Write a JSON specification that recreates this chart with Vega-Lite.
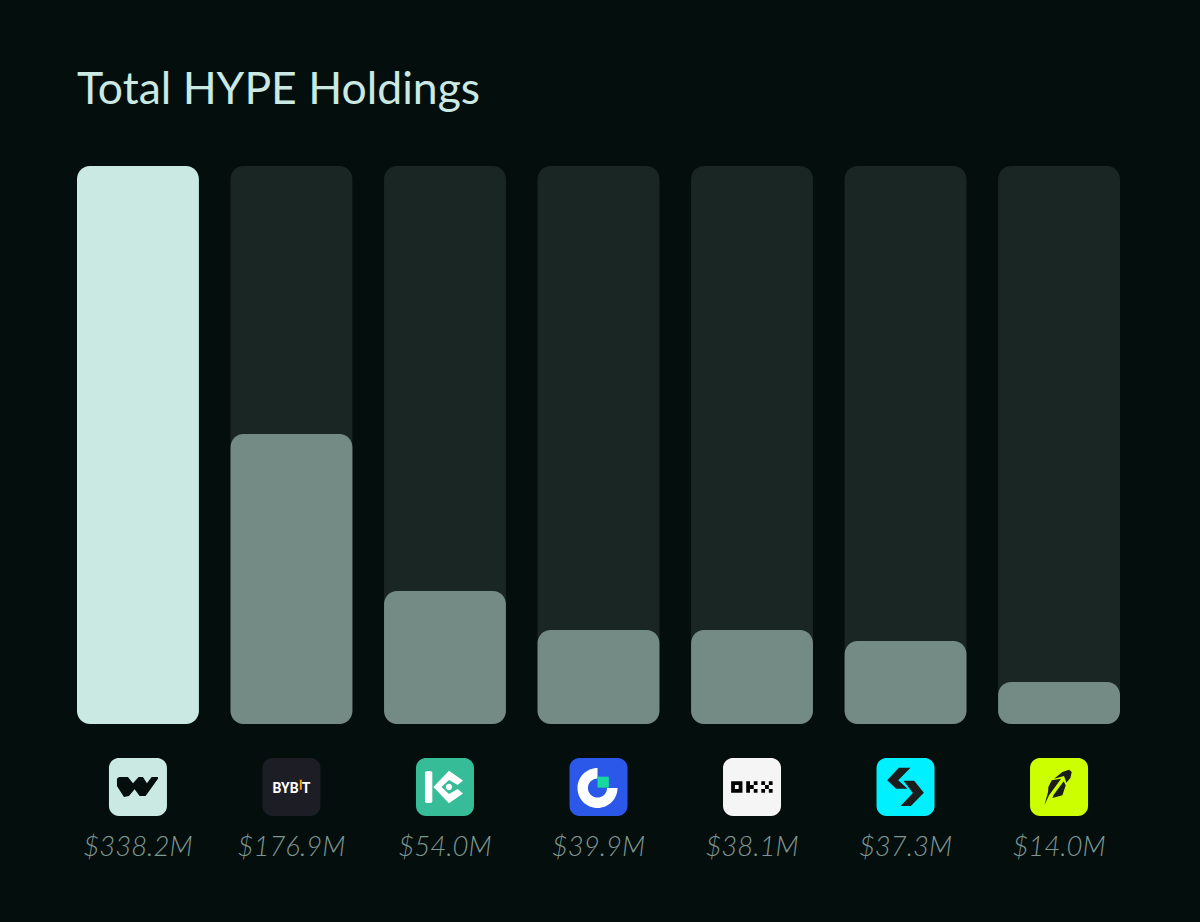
{
  "$schema": "https://vega.github.io/schema/vega-lite/v6.json",
  "background": "#040E0D",
  "padding": {"left": 77, "right": 80, "top": 67, "bottom": 64},
  "title": {"text": "Total HYPE Holdings", "font": "Lato", "fontSize": 44.5, "fontWeight": 400, "color": "#CBE9E3", "anchor": "start", "frame": "group", "offset": 53},
  "config": {"view": {"stroke": null}},
  "data": {
    "values": [
      {"exchange": "W", "label": "$338.2M", "drawn": 338.2},
      {"exchange": "Bybit", "label": "$176.9M", "drawn": 175.8},
      {"exchange": "KuCoin", "label": "$54.0M", "drawn": 80.6},
      {"exchange": "Gate", "label": "$39.9M", "drawn": 57},
      {"exchange": "OKX", "label": "$38.1M", "drawn": 57},
      {"exchange": "Bitget", "label": "$37.3M", "drawn": 50.3},
      {"exchange": "Robinhood", "label": "$14.0M", "drawn": 25.5}
    ]
  },
  "spacing": 34,
  "vconcat": [
    {
      "width": 1043,
      "height": 558,
      "encoding": {
        "x": {"field": "label", "type": "nominal", "sort": null, "axis": null, "scale": {"paddingInner": 0.206, "paddingOuter": 0}}
      },
      "layer": [
        {
          "mark": {"type": "bar", "cornerRadius": 13, "color": "#1A2624"},
          "encoding": {
            "y": {"datum": 338.2, "type": "quantitative", "axis": null, "scale": {"domain": [0, 338.2], "nice": false}},
            "y2": {"datum": 0}
          }
        },
        {
          "mark": {"type": "bar", "cornerRadius": 13},
          "encoding": {
            "y": {"field": "drawn", "type": "quantitative", "stack": null, "axis": null, "scale": {"domain": [0, 338.2], "nice": false}},
            "color": {"condition": {"test": "datum.exchange === 'W'", "value": "#CBE9E3"}, "value": "#748A85"}
          }
        }
      ]
    },
    {
      "width": 1043,
      "height": 58,
      "encoding": {
        "x": {
          "field": "label",
          "type": "nominal",
          "sort": null,
          "title": null,
          "scale": {"paddingInner": 0.206, "paddingOuter": 0},
          "axis": {"domain": false, "ticks": false, "labelAngle": 0, "labelFont": "Lato", "labelFontStyle": "italic", "labelFontWeight": 300, "labelFontSize": 27.5, "labelColor": "#7F9691", "labelPadding": 17}
        }
      },
      "resolve": {"scale": {"color": "independent"}},
      "layer": [
        {
          "mark": {"type": "bar", "width": 58, "cornerRadius": 10},
          "encoding": {
            "color": {
              "field": "exchange",
              "type": "nominal",
              "legend": null,
              "scale": {
                "domain": ["W", "Bybit", "KuCoin", "Gate", "OKX", "Bitget", "Robinhood"],
                "range": ["#CBE9E3", "#1D1D26", "#36BD97", "#2B58E8", "#F5F5F5", "#00F0FF", "#CCFF00"]
              }
            }
          }
        },
        {
          "transform": [{"filter": "datum.exchange !== 'Bybit'"}],
          "mark": {"type": "point", "filled": true, "opacity": 1, "size": 3364},
          "encoding": {
            "color": {
              "field": "exchange",
              "type": "nominal",
              "legend": null,
              "scale": {
                "domain": ["W", "KuCoin", "Gate", "OKX", "Bitget", "Robinhood"],
                "range": ["#040E0D", "#FFFFFF", "#FFFFFF", "#000000", "#1C1C1C", "#1C1C1C"]
              }
            },
            "shape": {
              "field": "exchange",
              "type": "nominal",
              "legend": null,
              "scale": {
                "domain": ["W", "KuCoin", "Gate", "OKX", "Bitget", "Robinhood"],
                "range": [
                  "M -0.724,-0.287 L -0.655,-0.345 L -0.345,-0.345 L -0.172,-0.126 L 0.023,-0.345 L 0.172,-0.345 L 0.31,-0.126 L 0.471,-0.345 L 0.69,-0.345 L 0.69,-0.287 L 0.264,0.31 L 0.057,0.31 L -0.115,0.08 L -0.31,0.31 L -0.483,0.345 L -0.724,-0.034 Z",
                  "M -0.69,-0.5 C -0.69,-0.57 -0.437,-0.57 -0.437,-0.5 L -0.437,0.5 C -0.437,0.57 -0.69,0.57 -0.69,0.5 Z M -0.4,0 L 0.138,-0.56 L 0.62,-0.22 L 0.44,-0.07 L 0.138,-0.24 L -0.12,0 L 0.138,0.24 L 0.44,0.07 L 0.62,0.22 L 0.138,0.56 Z M 0.028,0 C 0.028,-0.06 0.078,-0.11 0.138,-0.11 C 0.198,-0.11 0.248,-0.06 0.248,0 C 0.248,0.06 0.198,0.11 0.138,0.11 C 0.078,0.11 0.028,0.06 0.028,0 Z",
                  "M -0.034,-0.656 C -0.415,-0.656 -0.724,-0.347 -0.724,0.034 C -0.724,0.415 -0.415,0.724 -0.034,0.724 C 0.347,0.724 0.656,0.415 0.656,0.034 L 0.296,0.034 C 0.296,0.216 0.148,0.364 -0.034,0.364 C -0.216,0.364 -0.364,0.216 -0.364,0.034 C -0.364,-0.148 -0.216,-0.296 -0.034,-0.296 Z",
                  "M -0.72,-0.195 L -0.33,-0.195 L -0.33,0.195 L -0.72,0.195 Z M -0.59,-0.065 L -0.59,0.065 L -0.46,0.065 L -0.46,-0.065 Z M -0.2,-0.195 L -0.07,-0.195 L -0.07,0.195 L -0.2,0.195 Z M -0.07,-0.065 L 0.06,-0.065 L 0.06,0.065 L -0.07,0.065 Z M 0.06,-0.195 L 0.19,-0.195 L 0.19,-0.065 L 0.06,-0.065 Z M 0.06,0.065 L 0.19,0.065 L 0.19,0.195 L 0.06,0.195 Z M 0.32,-0.195 L 0.45,-0.195 L 0.45,-0.065 L 0.32,-0.065 Z M 0.58,-0.195 L 0.71,-0.195 L 0.71,-0.065 L 0.58,-0.065 Z M 0.45,-0.065 L 0.58,-0.065 L 0.58,0.065 L 0.45,0.065 Z M 0.32,0.065 L 0.45,0.065 L 0.45,0.195 L 0.32,0.195 Z M 0.58,0.065 L 0.71,0.065 L 0.71,0.195 L 0.58,0.195 Z",
                  "M -0.23,-0.667 L 0.172,-0.667 L -0.253,-0.23 L 0.069,0.057 L -0.322,0.057 L -0.632,-0.23 Z M -0.069,-0.218 L 0.299,-0.218 L 0.632,0.195 L 0.184,0.655 L -0.172,0.655 L 0.253,0.207 Z",
                  "M -0.172,-0.287 L 0.115,-0.517 L 0.345,-0.598 L 0.437,-0.517 L 0.391,-0.31 L 0.253,-0.149 L 0.172,-0.379 Z M -0.253,-0.23 L 0.069,-0.287 L -0.345,0.287 L -0.506,0.632 L -0.379,0.172 L -0.368,0 Z M 0.161,-0.195 L 0.23,-0.057 L 0.115,0.287 L -0.23,0.379 L -0.184,0.264 Z"
                ]
              }
            }
          }
        },
        {
          "transform": [{"filter": "datum.exchange === 'Gate'"}],
          "mark": {"type": "point", "filled": true, "opacity": 1, "size": 3364, "color": "#17D9A0", "shape": "M -0.034,-0.356 L 0.356,-0.356 L 0.356,0.023 L -0.034,0.023 Z"}
        },
        {
          "transform": [{"filter": "datum.exchange === 'Bybit'"}],
          "mark": {"type": "text", "font": "Roboto", "fontWeight": 700, "fontSize": 14, "color": "#FFFFFF", "baseline": "middle", "dy": 1.5, "text": "BYB T"}
        },
        {
          "transform": [{"filter": "datum.exchange === 'Bybit'"}],
          "mark": {"type": "point", "filled": true, "opacity": 1, "size": 3364, "color": "#F7A600", "shape": "M 0.287,-0.253 L 0.356,-0.253 L 0.356,0.092 L 0.287,0.092 Z"}
        }
      ]
    }
  ]
}
